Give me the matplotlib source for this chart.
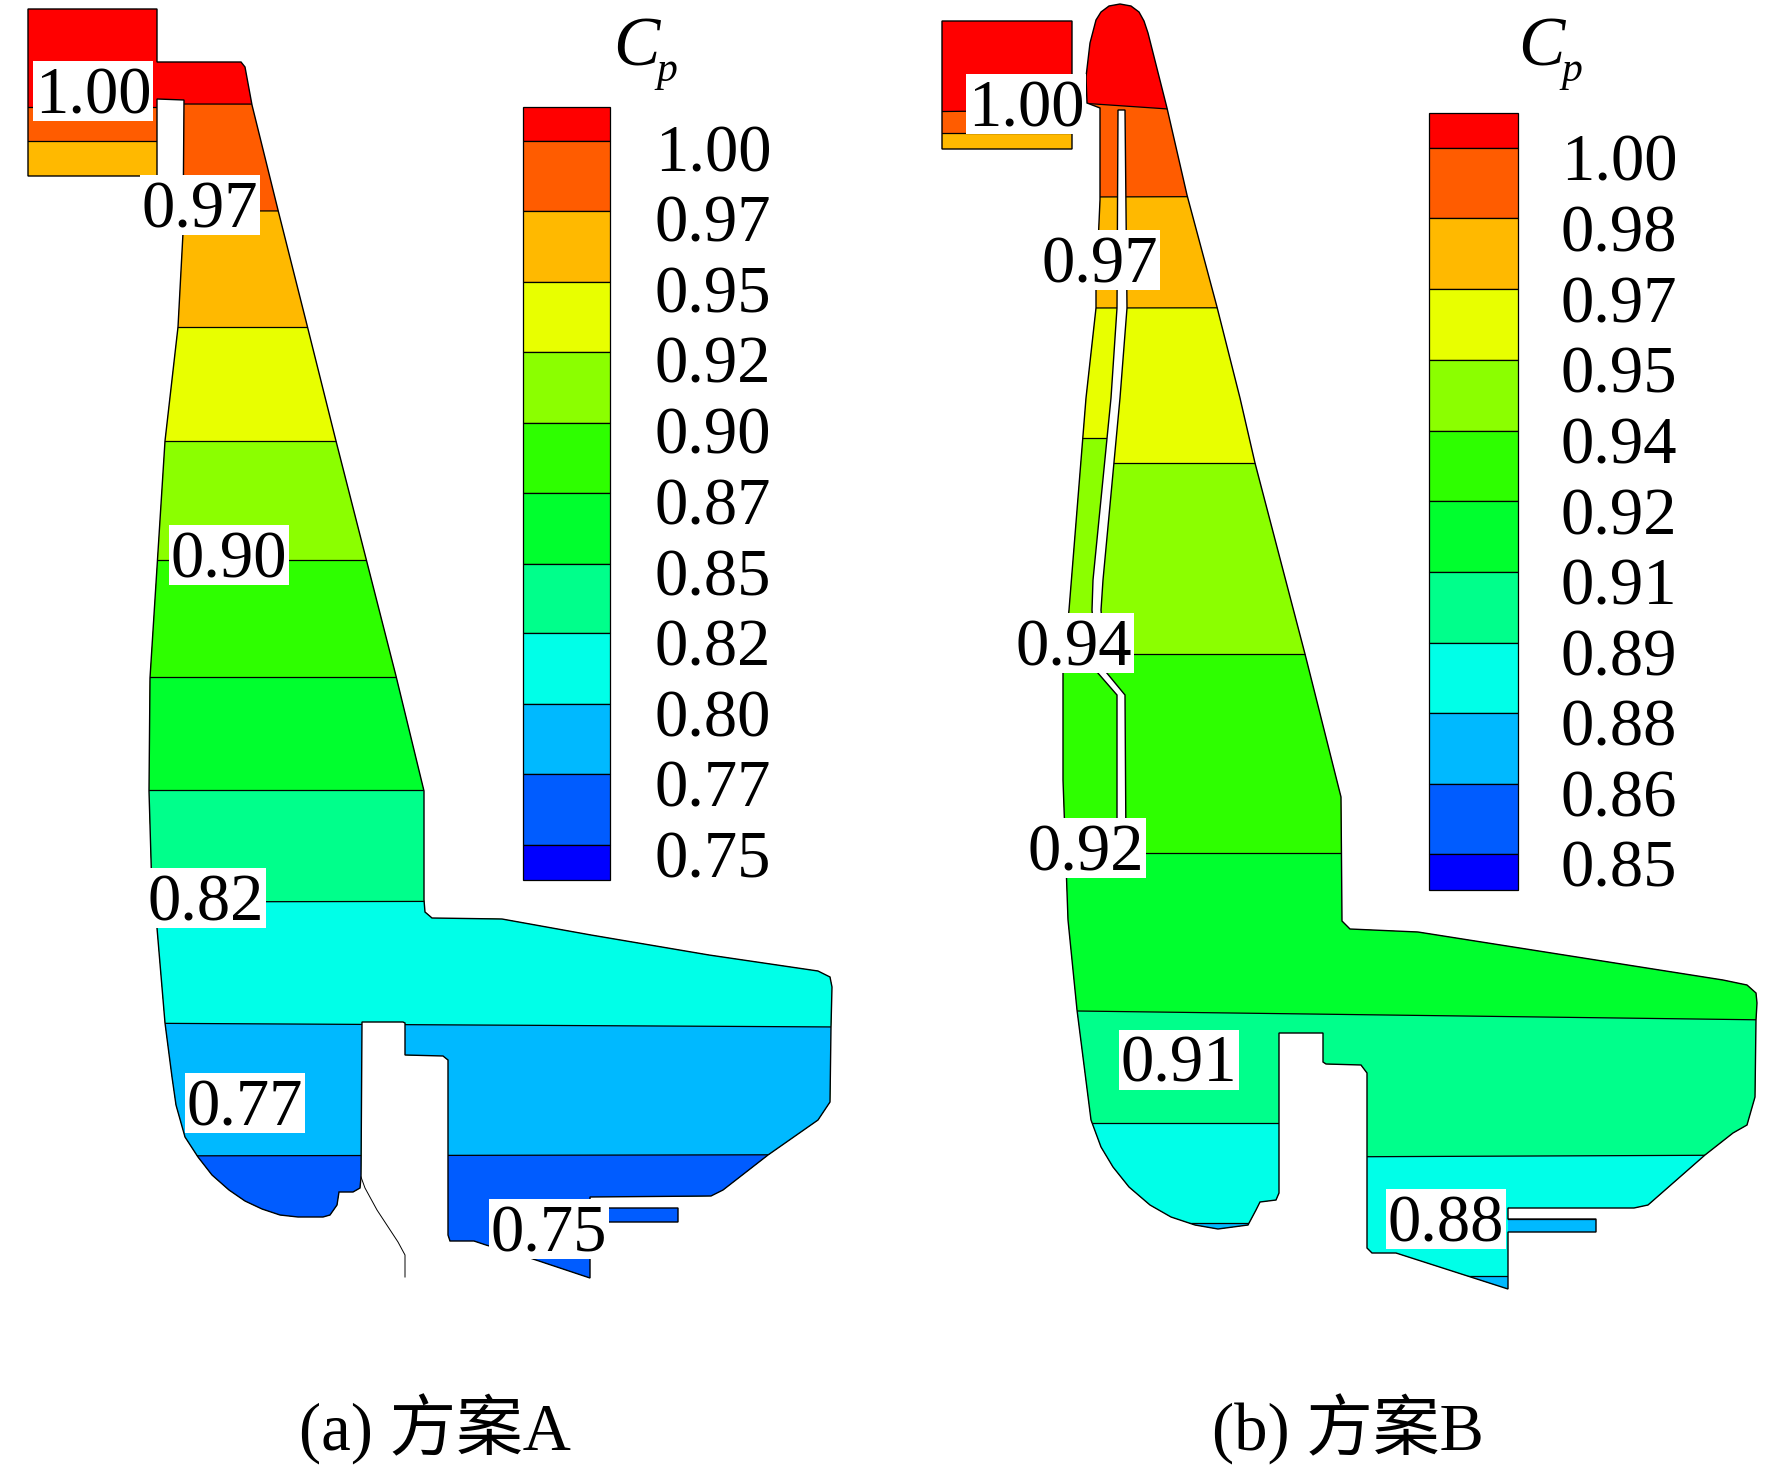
"""Pressure coefficient contours for layouts A and B."""

import matplotlib

matplotlib.use("Agg")
import matplotlib.pyplot as plt
from matplotlib.patches import PathPatch, Polygon, Rectangle
from matplotlib.path import Path

WIDTH, HEIGHT = 1772, 1469
SERIF = ["Liberation Serif", "Noto Sans CJK SC"]

PALETTE = ["#ff0000", "#ff5c00", "#ffb900", "#e8ff00", "#8bff00", "#2eff00",
           "#00ff2e", "#00ff8b", "#00ffe8", "#00b9ff", "#005cff", "#0000ff"]

LEVELS_A = ["1.00", "0.97", "0.95", "0.92", "0.90", "0.87", "0.85", "0.82", "0.80", "0.77", "0.75"]
LEVELS_B = ["1.00", "0.98", "0.97", "0.95", "0.94", "0.92", "0.91", "0.89", "0.88", "0.86", "0.85"]

# colourbar band edges, px from the top of the picture
BAR_EDGES_A = [107, 141, 211, 282, 352, 423, 493, 564, 633, 704, 774, 845, 880]
BAR_EDGES_B = [113, 148, 218, 289, 360, 431, 501, 572, 643, 713, 784, 854, 890]
BAR_X_A = (523, 610)
BAR_X_B = (1429, 1518)
TICK_Y_A = [149, 219, 290, 360, 431, 502, 573, 643, 714, 784, 855]
TICK_Y_B = [158, 229, 300, 370, 441, 512, 582, 653, 723, 794, 864]
TICK_X_A = 655
TICK_X_B = 1561

OUTLINE_A = [(28, 9), (157, 9), (157, 62), (241, 62), (245, 67), (252, 105), (278, 210), (307, 325),
             (336, 441), (396, 676), (424, 791), (424, 900), (425, 912), (432, 918), (502, 919),
             (591, 935), (709, 955), (818, 971), (830, 977), (832, 987), (831, 1027), (830, 1102),
             (818, 1120), (768, 1155), (723, 1190), (711, 1196), (590, 1197), (590, 1208), (678, 1208),
             (678, 1222), (590, 1222), (590, 1278), (530, 1258), (486, 1245), (474, 1241), (450, 1241),
             (448, 1235), (448, 1060), (443, 1056), (405, 1055), (405, 1023), (403, 1022), (362, 1022),
             (361, 1177), (360, 1188), (353, 1192), (339, 1192), (337, 1205), (330, 1215), (323, 1217),
             (298, 1217), (280, 1215), (262, 1209), (245, 1201), (229, 1190), (212, 1175), (198, 1157),
             (185, 1137), (176, 1105), (172, 1077), (165, 1023),
             (157, 928), (152, 893), (149, 791), (150, 678), (165, 441), (178, 327), (183, 233),
             (184, 100), (157, 99), (157, 176), (28, 176)]
CUT_LINE_A = [(361, 1177), (365, 1188), (377, 1210), (398, 1242), (405, 1255), (405, 1277)]

BOX_B = [(942, 21), (1072, 21), (1072, 149), (942, 149)]
OUTLINE_B = [(1087, 103), (1086, 77), (1090, 43), (1096, 20), (1101, 12), (1109, 6), (1120, 4), (1131, 6),
             (1139, 12), (1144, 21), (1148, 33), (1167, 108), (1187, 195), (1217, 307), (1240, 398),
             (1255, 463), (1305, 654), (1341, 797), (1342, 921), (1350, 929), (1418, 932), (1723, 980),
             (1747, 985), (1756, 993), (1757, 1003), (1756, 1020), (1755, 1097), (1747, 1125), (1733, 1133),
             (1705, 1155), (1648, 1205), (1634, 1208), (1508, 1208), (1508, 1219), (1596, 1219), (1596, 1232),
             (1508, 1232), (1508, 1289), (1396, 1253), (1372, 1253), (1367, 1248), (1367, 1073),
             (1361, 1065), (1326, 1064), (1323, 1062), (1323, 1033), (1279, 1033), (1279, 1193),
             (1276, 1200), (1260, 1202), (1256, 1210), (1248, 1225), (1218, 1229), (1195, 1225),
             (1171, 1217), (1150, 1205), (1129, 1187), (1113, 1167), (1101, 1147), (1091, 1120), (1077, 1010),
             (1074, 980), (1068, 920), (1063, 780), (1063, 672), (1069, 610), (1086, 398), (1096, 308),
             (1096, 290), (1100, 200), (1100, 108)]
SLIT_B = [(1118, 110), (1117, 308), (1111, 398), (1093, 580), (1092, 610), (1097, 672), (1117, 695),
          (1117, 850), (1126, 850), (1125, 695), (1106, 672), (1101, 610), (1103, 580), (1120, 398),
          (1127, 308), (1125, 110)]

# contour boundaries: x from, x to, y at left, y at right, index of the band below
BOUNDS_A = [(0, 1772, 0, 0, 0), (0, 170, 107, 107, 1), (170, 1772, 104, 106, 1), (0, 170, 141, 141, 2),
            (170, 1772, 211, 210, 2), (0, 1772, 327, 327, 3), (0, 1772, 441, 441, 4), (0, 1772, 560, 560, 5),
            (0, 1772, 677, 677, 6), (0, 1772, 790, 790, 7), (100, 1772, 902, 899, 8), (100, 1772, 1023, 1032, 9),
            (100, 1772, 1156, 1153, 10)]
BOUNDS_B = [(900, 1772, 0, 0, 0), (900, 1080, 112, 110, 1), (1080, 1772, 103, 150, 1), (900, 1080, 133, 133, 2),
            (1080, 1772, 197, 195, 2), (1080, 1772, 308, 307, 3), (1000, 1112, 438, 438, 4), (1112, 1772, 463, 463, 4),
            (1000, 1772, 654, 654, 5), (1000, 1772, 853, 853, 6), (1000, 1772, 1010, 1020, 7),
            (1000, 1300, 1123, 1123, 8), (1300, 1772, 1157, 1155, 8), (1000, 1300, 1223, 1223, 9),
            (1300, 1508, 1276, 1276, 9), (1508, 1772, 1219, 1219, 9)]

INLINE_TEXT_A = ["1.00", "0.97", "0.90", "0.82", "0.77", "0.75"]
INLINE_XY_A = [(93, 91), (200, 205), (229, 555), (206, 898), (245, 1103), (549, 1229)]
INLINE_TEXT_B = ["1.00", "0.97", "0.94", "0.92", "0.91", "0.88"]
INLINE_XY_B = [(1026, 104), (1100, 260), (1074, 643), (1086, 848), (1179, 1060), (1446, 1219)]


def closed_path(points):
    return Path(points + [points[0]], closed=True)


def draw_field(ax, outlines, bounds):
    paths = [closed_path(p) for p in outlines]
    shape = PathPatch(Path.make_compound_path(*paths), fc="none", ec="black", lw=1.0, zorder=3)
    ax.add_patch(shape)
    for x0, x1, y0, y1, band in bounds:
        fill, = ax.fill((x0, x1, x1, x0), (y0, y1, HEIGHT, HEIGHT), color=PALETTE[band], lw=0, zorder=1)
        fill.set_clip_path(shape)
        line, = ax.plot((x0, x1), (y0, y1), color="black", lw=0.9, zorder=2)
        line.set_clip_path(shape)


def draw_colourbar(ax, bar_x, edges, levels, tick_x, tick_y):
    tops = edges[:-1]
    heights = [b - t for t, b in zip(edges[:-1], edges[1:])]
    ax.bar([sum(bar_x) / 2] * len(tops), heights, bottom=tops, width=bar_x[1] - bar_x[0],
           color=PALETTE, edgecolor="black", lw=0.9, zorder=2)
    for label, y in zip(levels, tick_y):
        ax.text(tick_x, y + 22, label, family=SERIF, fontsize=48, ha="left", va="baseline")


def draw_inline(ax, texts, centres):
    for label, (x, y) in zip(texts, centres):
        ax.add_patch(Rectangle((x - 60, y - 30), 120, 60, fc="white", ec="none", zorder=5))
        ax.text(x, y + 22, label, family=SERIF, fontsize=48, ha="center", va="baseline", zorder=6)


def draw_cp(ax, x):
    ax.text(x, 65, "C", family="Liberation Serif", style="italic", fontsize=50, ha="left", va="baseline")
    ax.text(x + 43, 81, "p", family="Liberation Serif", style="italic", fontsize=30, ha="left", va="baseline")


fig = plt.figure(figsize=(WIDTH / 100, HEIGHT / 100), dpi=100)
ax = fig.add_axes([0, 0, 1, 1])
ax.set_xlim(0, WIDTH)
ax.set_ylim(HEIGHT, 0)
ax.axis("off")

draw_field(ax, [OUTLINE_A], BOUNDS_A)
xs, ys = zip(*CUT_LINE_A)
ax.plot(xs, ys, color="black", lw=0.7, zorder=3)
draw_colourbar(ax, BAR_X_A, BAR_EDGES_A, LEVELS_A, TICK_X_A, TICK_Y_A)
draw_inline(ax, INLINE_TEXT_A, INLINE_XY_A)
draw_cp(ax, 613)

draw_field(ax, [BOX_B, OUTLINE_B], BOUNDS_B)
ax.add_patch(Polygon(SLIT_B, closed=True, fc="white", ec="black", lw=1.0, zorder=4))
draw_colourbar(ax, BAR_X_B, BAR_EDGES_B, LEVELS_B, TICK_X_B, TICK_Y_B)
draw_inline(ax, INLINE_TEXT_B, INLINE_XY_B)
draw_cp(ax, 1518)

ax.text(435, 1451, "(a) 方案A", family=SERIF, fontsize=48, ha="center", va="baseline")
ax.text(1348, 1451, "(b) 方案B", family=SERIF, fontsize=48, ha="center", va="baseline")

fig.savefig("out.png", dpi=100)
plt.close(fig)
